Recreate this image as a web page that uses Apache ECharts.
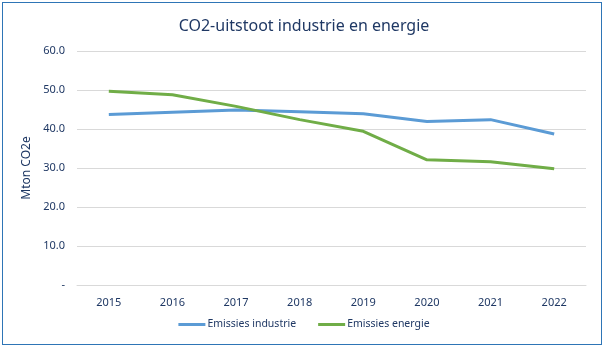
<!DOCTYPE html>
<html>
<head>
<meta charset="utf-8">
<script src="https://cdn.jsdelivr.net/npm/echarts@6/dist/echarts.min.js"></script>
<style>
  html, body { margin: 0; padding: 0; background: #fff; }
  #frame {
    position: absolute; left: 2px; top: 2px; width: 600px; height: 343px;
    border: 1px solid #2E75B6; box-sizing: border-box;
  }
  #chart { position: absolute; left: 0; top: 0; width: 608px; height: 350px; }
</style>
</head>
<body>
<div id="frame"></div>
<div id="chart"></div>
<script>
const years = ['2015', '2016', '2017', '2018', '2019', '2020', '2021', '2022'];
const industrie = [43.7, 44.3, 44.9, 44.4, 43.9, 41.9, 42.4, 38.7];
const energie = [49.7, 48.8, 45.8, 42.4, 39.4, 32.1, 31.6, 29.8];

const textColor = '#1F3864';
const font = 'Noto Sans';

const chart = echarts.init(document.getElementById('chart'));
chart.setOption({
  animation: false,
  title: {
    text: 'CO2-uitstoot industrie en energie',
    left: 'center',
    top: 13,
    textStyle: { fontFamily: font, fontSize: 16, fontWeight: 'normal', color: textColor },
  },
  legend: {
    bottom: 15,
    left: 'center',
    itemWidth: 27,
    itemHeight: 3,
    itemGap: 22,
    icon: 'rect',
    textStyle: { fontFamily: font, fontSize: 10.5, color: textColor, padding: [0, 0, 0, -3] },
    data: ['Emissies industrie', 'Emissies energie'],
  },
  grid: { left: 77, right: 22, top: 51, bottom: 65 },
  xAxis: {
    type: 'category',
    data: years,
    axisLine: { lineStyle: { color: '#D9D9D9' } },
    axisTick: { show: false },
    axisLabel: { fontFamily: font, fontSize: 11, color: textColor, margin: 12 },
  },
  yAxis: {
    type: 'value',
    min: 0,
    max: 60,
    interval: 10,
    name: 'Mton CO2e',
    nameLocation: 'middle',
    nameGap: 42,
    nameTextStyle: { fontFamily: font, fontSize: 12, color: textColor },
    axisLine: { show: false },
    axisTick: { show: false },
    splitLine: { lineStyle: { color: '#D9D9D9' } },
    axisLabel: {
      fontFamily: font, fontSize: 11, color: textColor, margin: 12,
      formatter: (v) => (v === 0 ? '-' : v.toFixed(1)),
    },
  },
  series: [
    {
      name: 'Emissies industrie',
      type: 'line',
      data: industrie,
      symbol: 'none',
      lineStyle: { color: '#5B9BD5', width: 3 },
      itemStyle: { color: '#5B9BD5' },
    },
    {
      name: 'Emissies energie',
      type: 'line',
      data: energie,
      symbol: 'none',
      lineStyle: { color: '#70AD47', width: 3 },
      itemStyle: { color: '#70AD47' },
    },
  ],
});
</script>
</body>
</html>
